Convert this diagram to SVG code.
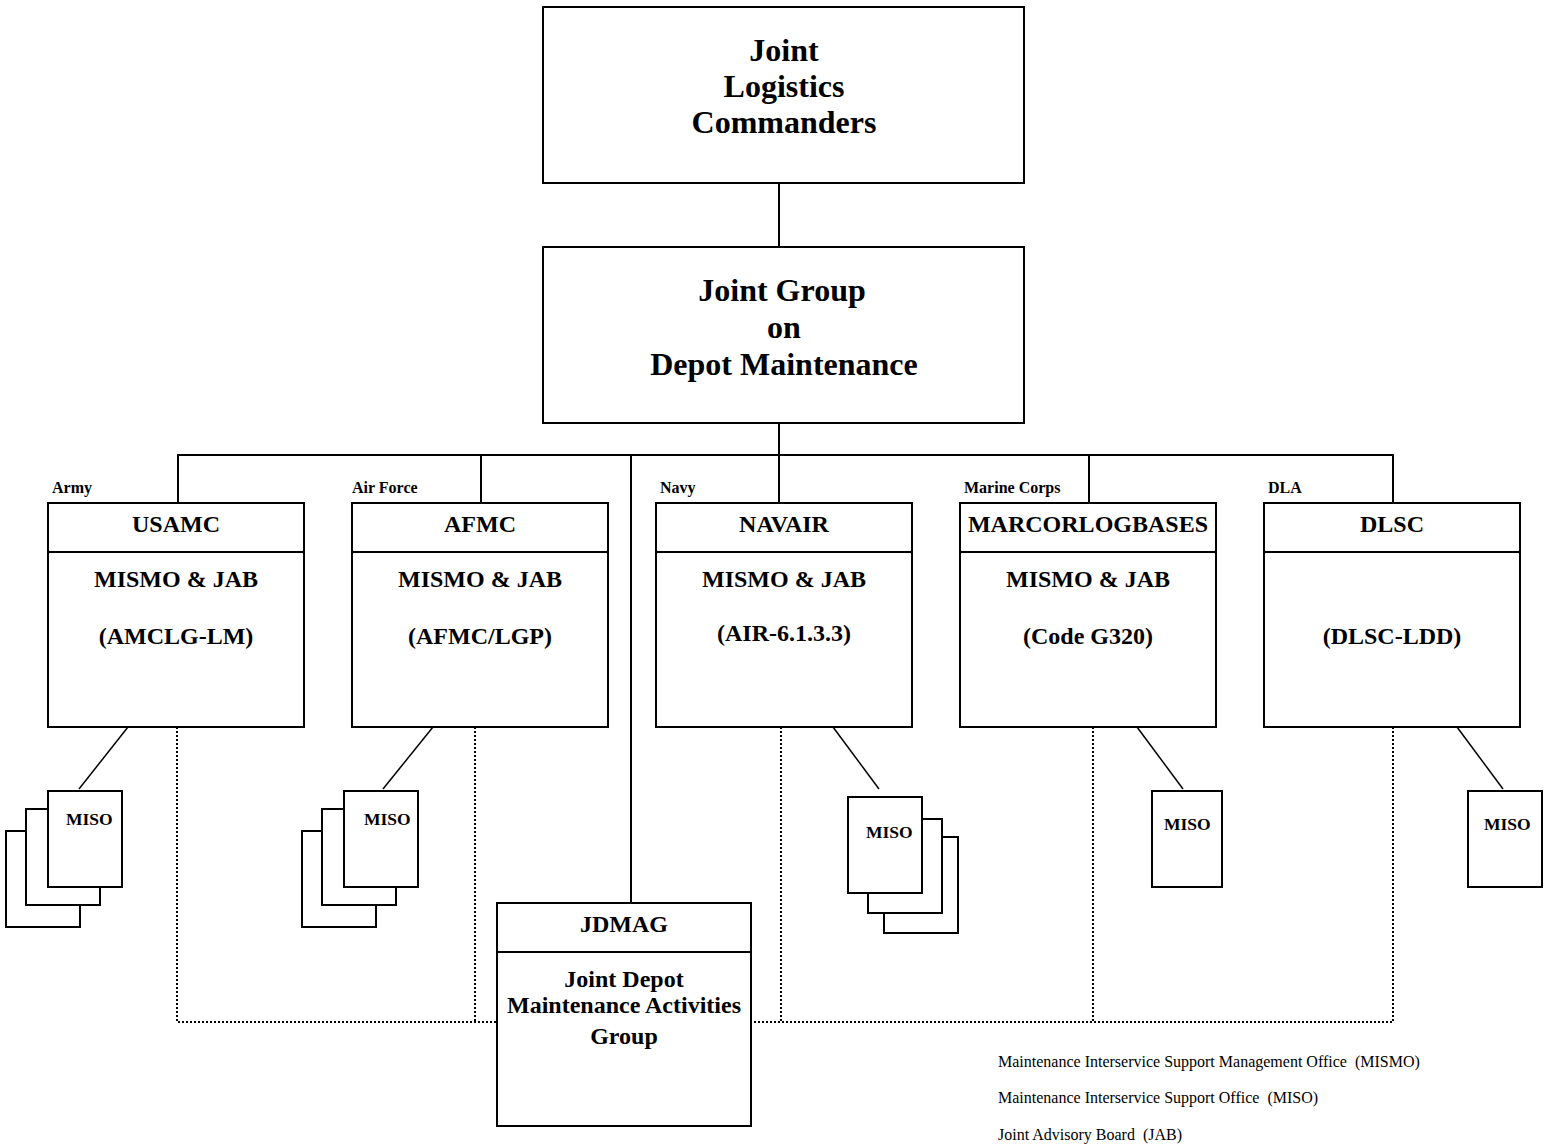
<svg xmlns="http://www.w3.org/2000/svg" width="1545" height="1148" viewBox="0 0 1545 1148">
<style>
.box{fill:#fff;stroke:#000;stroke-width:2}
.ln{stroke:#000;stroke-width:2;fill:none}
.thin{stroke:#000;stroke-width:1.5;fill:none}
.dot{stroke:#000;stroke-width:2;fill:none;stroke-dasharray:2 2}
text{font-family:"Liberation Serif","Times New Roman",serif;fill:#000}
.big{font-size:32px;font-weight:bold;text-anchor:middle}
.mid{font-size:24px;font-weight:bold;text-anchor:middle}
.lbl{font-size:16px;font-weight:bold}
.miso{font-size:17.5px;font-weight:bold}
.leg{font-size:16px;white-space:pre}
</style>
<rect width="1545" height="1148" fill="#fff"/>
<g id="connectors">
<line class="dot" x1="178" y1="1022" x2="1393" y2="1022"/>
<line class="dot" x1="177" y1="727" x2="177" y2="1022"/>
<line class="dot" x1="475" y1="727" x2="475" y2="1022"/>
<line class="dot" x1="781" y1="727" x2="781" y2="1022"/>
<line class="dot" x1="1093" y1="727" x2="1093" y2="1022"/>
<line class="dot" x1="1393" y1="727" x2="1393" y2="1022"/>
<line class="ln" x1="779" y1="183" x2="779" y2="247"/>
<line class="ln" x1="779" y1="423" x2="779" y2="455"/>
<line class="ln" x1="177" y1="455" x2="1394" y2="455"/>
<line class="ln" x1="178" y1="455" x2="178" y2="503"/>
<line class="ln" x1="481" y1="455" x2="481" y2="503"/>
<line class="ln" x1="631" y1="455" x2="631" y2="903"/>
<line class="ln" x1="779" y1="455" x2="779" y2="503"/>
<line class="ln" x1="1089" y1="455" x2="1089" y2="503"/>
<line class="ln" x1="1393" y1="455" x2="1393" y2="503"/>
<line class="thin" x1="128" y1="727" x2="79" y2="789"/>
<line class="thin" x1="433" y1="727" x2="383" y2="789"/>
<line class="thin" x1="833" y1="727" x2="879" y2="789"/>
<line class="thin" x1="1137" y1="727" x2="1183" y2="789"/>
<line class="thin" x1="1457" y1="727" x2="1503" y2="789"/>
</g>
<g id="jlc">
<rect class="box" x="543" y="7" width="481" height="176"/>
<text class="big" x="784" y="61">Joint</text>
<text class="big" x="784" y="97">Logistics</text>
<text class="big" x="784" y="133">Commanders</text>
</g>
<g id="jgdm">
<rect class="box" x="543" y="247" width="481" height="176"/>
<text class="big" x="782" y="301">Joint Group</text>
<text class="big" x="784" y="338">on</text>
<text class="big" x="784" y="375">Depot Maintenance</text>
</g>
<g id="usamc">
<text class="lbl" x="52" y="493">Army</text>
<rect class="box" x="48" y="503" width="256" height="224"/>
<line class="ln" x1="48" y1="552" x2="304" y2="552"/>
<text class="mid" x="176" y="532">USAMC</text>
<text class="mid" x="176" y="587">MISMO &amp; JAB</text>
<text class="mid" x="176" y="644">(AMCLG-LM)</text>
</g>
<g id="afmc">
<text class="lbl" x="352" y="493">Air Force</text>
<rect class="box" x="352" y="503" width="256" height="224"/>
<line class="ln" x1="352" y1="552" x2="608" y2="552"/>
<text class="mid" x="480" y="532">AFMC</text>
<text class="mid" x="480" y="587">MISMO &amp; JAB</text>
<text class="mid" x="480" y="644">(AFMC/LGP)</text>
</g>
<g id="navair">
<text class="lbl" x="660" y="493">Navy</text>
<rect class="box" x="656" y="503" width="256" height="224"/>
<line class="ln" x1="656" y1="552" x2="912" y2="552"/>
<text class="mid" x="784" y="532">NAVAIR</text>
<text class="mid" x="784" y="587">MISMO &amp; JAB</text>
<text class="mid" x="784" y="641">(AIR-6.1.3.3)</text>
</g>
<g id="marcor">
<text class="lbl" x="964" y="493">Marine Corps</text>
<rect class="box" x="960" y="503" width="256" height="224"/>
<line class="ln" x1="960" y1="552" x2="1216" y2="552"/>
<text class="mid" x="1088" y="532">MARCORLOGBASES</text>
<text class="mid" x="1088" y="587">MISMO &amp; JAB</text>
<text class="mid" x="1088" y="644">(Code G320)</text>
</g>
<g id="dlsc">
<text class="lbl" x="1268" y="493">DLA</text>
<rect class="box" x="1264" y="503" width="256" height="224"/>
<line class="ln" x1="1264" y1="552" x2="1520" y2="552"/>
<text class="mid" x="1392" y="532">DLSC</text>
<text class="mid" x="1392" y="644">(DLSC-LDD)</text>
</g>
<g id="miso-army">
<rect class="box" x="6" y="831" width="74" height="96"/>
<rect class="box" x="26" y="809" width="74" height="96"/>
<rect class="box" x="48" y="791" width="74" height="96"/>
<text class="miso" x="66" y="825">MISO</text>
</g>
<g id="miso-af">
<rect class="box" x="302" y="831" width="74" height="96"/>
<rect class="box" x="322" y="809" width="74" height="96"/>
<rect class="box" x="344" y="791" width="74" height="96"/>
<text class="miso" x="364" y="825">MISO</text>
</g>
<g id="miso-navy">
<rect class="box" x="884" y="837" width="74" height="96"/>
<rect class="box" x="868" y="819" width="74" height="94"/>
<rect class="box" x="848" y="797" width="74" height="96"/>
<text class="miso" x="866" y="838">MISO</text>
</g>
<g id="miso-marine">
<rect class="box" x="1152" y="791" width="70" height="96"/>
<text class="miso" x="1164" y="830">MISO</text>
</g>
<g id="miso-dla">
<rect class="box" x="1468" y="791" width="74" height="96"/>
<text class="miso" x="1484" y="830">MISO</text>
</g>
<g id="jdmag">
<rect class="box" x="497" y="903" width="254" height="223"/>
<line class="ln" x1="497" y1="952" x2="751" y2="952"/>
<text class="mid" x="624" y="932">JDMAG</text>
<text class="mid" x="624" y="987">Joint Depot</text>
<text class="mid" x="624" y="1013">Maintenance Activities</text>
<text class="mid" x="624" y="1044">Group</text>
</g>
<g id="legend">
<text class="leg" x="998" y="1067" xml:space="preserve">Maintenance Interservice Support Management Office  (MISMO)</text>
<text class="leg" x="998" y="1103" xml:space="preserve">Maintenance Interservice Support Office  (MISO)</text>
<text class="leg" x="998" y="1140" xml:space="preserve">Joint Advisory Board  (JAB)</text>
</g>
</svg>
